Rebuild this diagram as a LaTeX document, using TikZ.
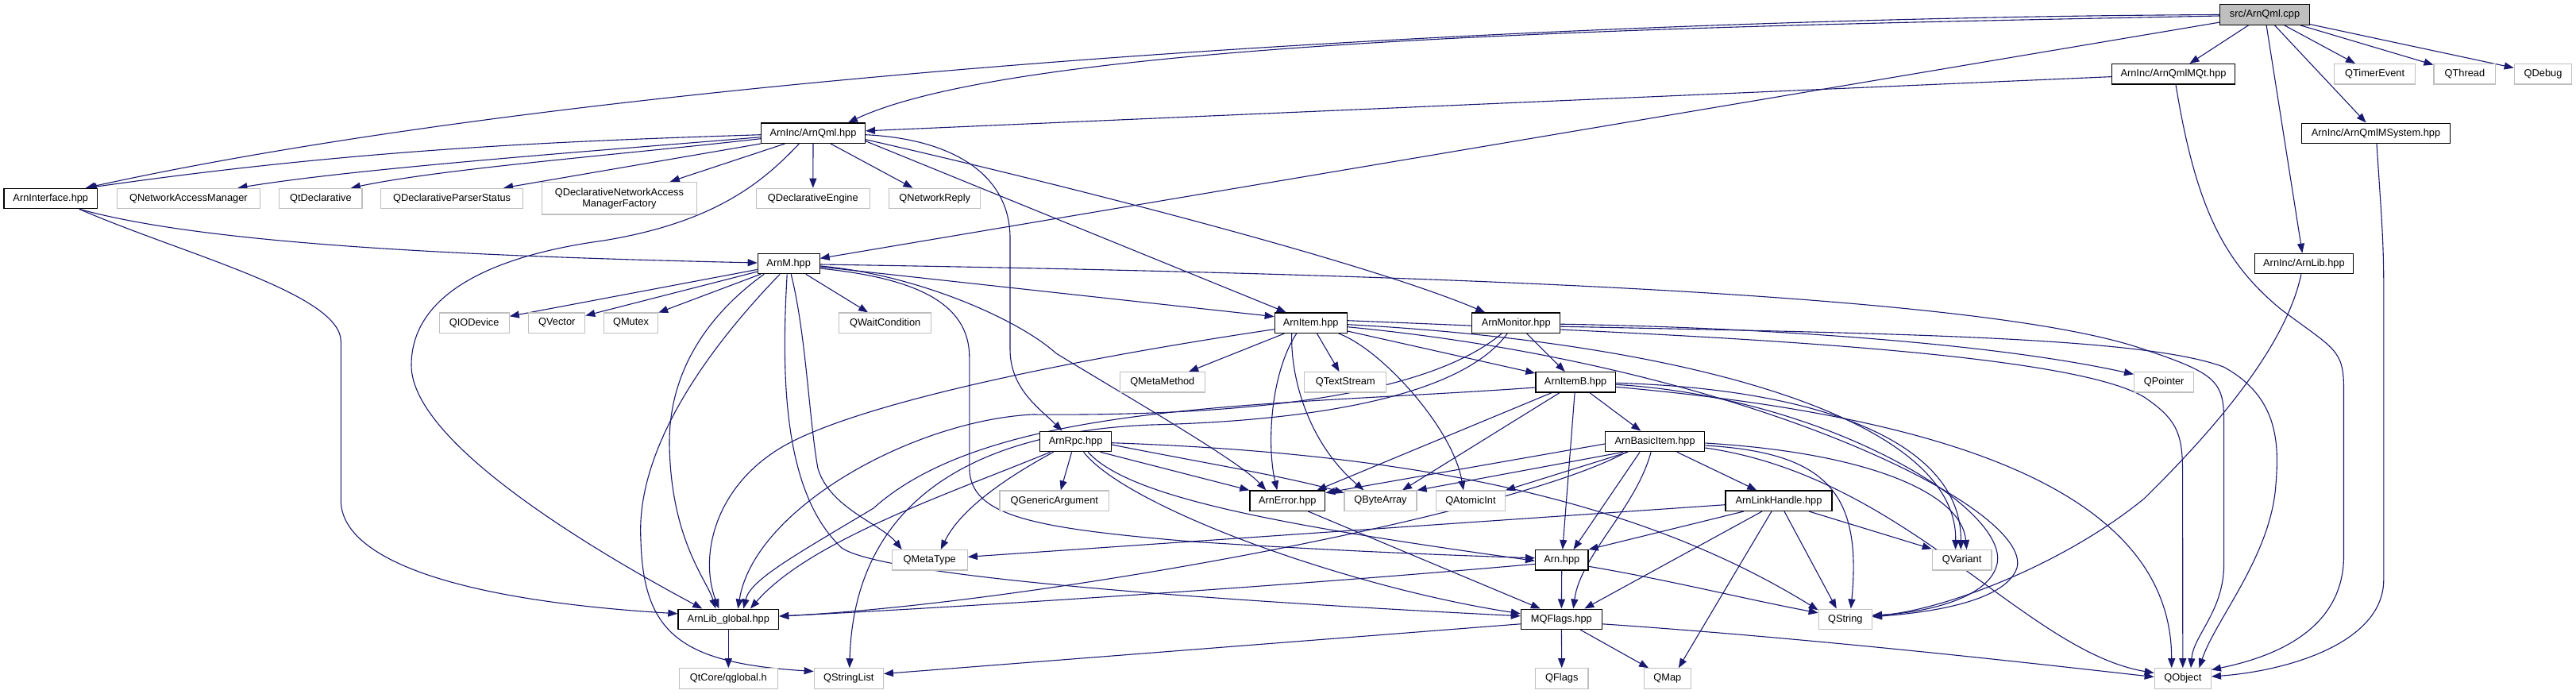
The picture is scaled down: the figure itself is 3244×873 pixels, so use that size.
\documentclass[tikz,border=0pt]{standalone}
\usepackage{fontspec}
\setmainfont{Liberation Sans}
\usetikzlibrary{arrows.meta}
\definecolor{edgeblue}{RGB}{25,25,112}
\definecolor{gray75}{RGB}{191,191,191}
\pgfdeclarelayer{edgelayer}
\pgfsetlayers{edgelayer,main}
\tikzset{
  nb/.style={draw=black, line width=1.2pt, fill=white, minimum height=25.4pt, inner sep=0pt, font=\fontsize{12.8pt}{14pt}\selectfont, text=black},
  ng/.style={nb, draw=gray75},
  e/.style={draw=edgeblue, line width=1.1pt, -{Triangle[length=12pt,width=9pt]}}
}
\begin{document}
\begin{tikzpicture}[x=1pt,y=-1pt]
\useasboundingbox (0,0) rectangle (3244,873);
% ---------- nodes ----------
\node[nb, fill=gray75, minimum width=112.4pt] (cpp) at (2852,18.5) {src/ArnQml.cpp};
\node[nb, minimum width=155pt] (mqt) at (2737,93.3) {ArnInc/ArnQmlMQt.hpp};
\node[ng, minimum width=102.3pt] (qtimer) at (2990.6,93.3) {QTimerEvent};
\node[ng, minimum width=77.7pt] (qthread) at (3103.9,93.3) {QThread};
\node[ng, minimum width=72.5pt] (qdebug) at (3202.5,93.3) {QDebug};
\node[nb, minimum width=130.9pt] (qml) at (1024,167.7) {ArnInc/ArnQml.hpp};
\node[nb, minimum width=187pt] (msys) at (2992,167.8) {ArnInc/ArnQmlMSystem.hpp};
\node[nb, minimum width=117.8pt] (iface) at (63.8,250) {ArnInterface.hpp};
\node[ng, minimum width=180pt] (qnam) at (237.4,250) {QNetworkAccessManager};
\node[ng, minimum width=104.3pt] (qtdecl) at (403.9,250) {QtDeclarative};
\node[ng, minimum width=178.8pt] (qdps) at (569.1,250) {QDeclarativeParserStatus};
\node[ng, minimum width=194.7pt, minimum height=40.7pt, align=center] (qdnamf) at (779.9,249.7) {QDeclarativeNetworkAccess\\ManagerFactory};
\node[ng, minimum width=143.1pt] (qde) at (1023.8,250) {QDeclarativeEngine};
\node[ng, minimum width=115.1pt] (qnr) at (1177.2,250) {QNetworkReply};
\node[nb, minimum width=77.9pt] (arnm) at (993.2,332) {ArnM.hpp};
\node[nb, minimum width=124.6pt] (arnlib) at (2901.4,332) {ArnInc/ArnLib.hpp};
\node[ng, minimum width=88pt] (qiodev) at (597.2,406.7) {QIODevice};
\node[ng, minimum width=70.9pt] (qvector) at (701.3,406.7) {QVector};
\node[ng, minimum width=68.1pt] (qmutex) at (794.5,406.7) {QMutex};
\node[ng, minimum width=116.3pt] (qwait) at (1114.7,406.7) {QWaitCondition};
\node[nb, minimum width=90.9pt] (item) at (1650.7,406.7) {ArnItem.hpp};
\node[nb, minimum width=111.2pt] (monitor) at (1909.2,406.7) {ArnMonitor.hpp};
\node[ng, minimum width=107.1pt] (qmetamethod) at (1463.8,481.3) {QMetaMethod};
\node[ng, minimum width=102.9pt] (qtextstream) at (1694.3,481.3) {QTextStream};
\node[nb, minimum width=100.4pt] (itemb) at (1984.1,481.3) {ArnItemB.hpp};
\node[ng, minimum width=75.2pt] (qpointer) at (2725.2,481.3) {QPointer};
\node[nb, minimum width=89.7pt] (rpc) at (1354.6,556) {ArnRpc.hpp};
\node[nb, minimum width=125.1pt] (basic) at (2084.1,556) {ArnBasicItem.hpp};
\node[ng, minimum width=137.6pt] (qgenarg) at (1327.8,630.7) {QGenericArgument};
\node[nb, minimum width=94.8pt] (error) at (1621.3,630.7) {ArnError.hpp};
\node[ng, minimum width=91pt] (qbytearray) at (1738.5,630.7) {QByteArray};
\node[ng, minimum width=86.9pt] (qatomic) at (1851.9,630.7) {QAtomicInt};
\node[nb, minimum width=134.1pt] (link) at (2240,630.7) {ArnLinkHandle.hpp};
\node[ng, minimum width=95.2pt] (qmetatype) at (1170.7,705.3) {QMetaType};
\node[nb, minimum width=66.4pt] (arn) at (1966.8,705.3) {Arn.hpp};
\node[ng, minimum width=74.7pt] (qvariant) at (2470.6,705.3) {QVariant};
\node[nb, minimum width=126.8pt] (global) at (917.3,779.8) {ArnLib\_global.hpp};
\node[nb, minimum width=101.9pt] (mqflags) at (1966.3,779.8) {MQFlags.hpp};
\node[ng, minimum width=67.1pt] (qstring) at (2323.8,779.8) {QString};
\node[ng, minimum width=124pt] (qglobal) at (917.3,854.5) {QtCore/qglobal.h};
\node[ng, minimum width=87.1pt] (qstringlist) at (1068.8,854.5) {QStringList};
\node[ng, minimum width=66.4pt] (qflags) at (1966.8,854.5) {QFlags};
\node[ng, minimum width=58.7pt] (qmap) at (2099.8,854.5) {QMap};
\node[ng, minimum width=71.1pt] (qobject) at (2748.8,854.5) {QObject};
% ---------- edges ----------
\begin{pgfonlayer}{edgelayer}
% src/ArnQml.cpp
\draw[e] ([yshift=-1.5pt]cpp.west) .. controls (2200,32) and (1300,45) .. ([xshift=44pt]qml.north);
\draw[e] (cpp.west) .. controls (2000,22) and (800,85) .. ([xshift=44pt]iface.north);
\draw[e] (cpp) -- (arnm);
\draw[e] (cpp) -- (mqt);
\draw[e] (cpp) -- (arnlib);
\draw[e] (cpp) -- (msys);
\draw[e] (cpp) -- (qtimer);
\draw[e] (cpp) -- (qthread);
\draw[e] (cpp) -- (qdebug);
% ArnQmlMQt
\draw[e] (mqt) -- (qml);
\draw[e] ([xshift=3pt]mqt.south) .. controls (2765,260) and (2800,330) .. (2873,390) .. controls (2940,440) and (2951.5,440) .. (2951.5,490) -- (2951.5,700) .. controls (2951.5,800) and (2850,830) .. ([yshift=11pt]qobject.east);
% ArnQmlMSystem
\draw[e] ([xshift=1pt]msys.south) .. controls (2998,260) and (3001.8,300) .. (3001.8,360) -- (3001.8,730) .. controls (3001.8,810) and (2880,845) .. ([yshift=2.5pt]qobject.east);
% ArnLib
\draw[e] ([xshift=-3.5pt]arnlib.south) .. controls (2880,430) and (2800,530) .. (2700,628) .. controls (2600,710) and (2450,768) .. ([yshift=4pt]qstring.east);
% ArnInterface
\draw[e] ([xshift=36pt]iface.south) .. controls (250,305) and (550,322) .. ([yshift=1pt]arnm.west);
\draw[e] ([xshift=36pt]iface.south) .. controls (230,320) and (429.3,370) .. (429.3,430) -- (429.3,630) .. controls (429.3,700) and (560,755) .. ([yshift=7pt]global.west);
% ArnQml.hpp
\draw[e] ([yshift=-2pt]qml.west) .. controls (700,178) and (450,188) .. ([xshift=46pt]iface.north);
\draw[e] ([yshift=-5pt]qml.west) .. controls (750,190) and (450,212) .. ([xshift=62pt]qnam.north);
\draw[e] ([yshift=-7pt]qml.west) .. controls (780,195) and (560,212) .. ([xshift=38pt]qtdecl.north);
\draw[e] (qml.south west) -- ([xshift=65pt]qdps.north);
\draw[e] ([xshift=-35.6pt]qml.south) -- ([xshift=64pt]qdnamf.north);
\draw[e] (qml.south) -- (qde.north);
\draw[e] ([xshift=22pt]qml.south) -- ([xshift=-27.7pt]qnr.north);
\draw[e] ([xshift=-17.6pt]qml.south) .. controls (960,230) and (900,280) .. (760,303) .. controls (620,322) and (518,370) .. (518,460) .. controls (518,560) and (760,700) .. ([xshift=-33pt]global.north);
\draw[e] ([yshift=-2pt]qml.east) .. controls (1200,175) and (1272,220) .. (1272,300) -- (1272,440) .. controls (1272,490) and (1310,515) .. ([xshift=-17pt]rpc.north);
\draw[e] ([yshift=-10pt]qml.east) -- ([xshift=-31pt]item.north);
\draw[e] ([yshift=-8pt]qml.east) .. controls (1350,235) and (1720,330) .. ([xshift=-39pt]monitor.north);
% ArnM.hpp
\draw[e] (arnm) -- (qiodev);
\draw[e] (arnm) -- (qvector);
\draw[e] (arnm) -- (qmutex);
\draw[e] (arnm) -- (qwait);
\draw[e] ([yshift=-4pt]arnm.east) -- ([yshift=8pt]item.west);
\draw[e] ([yshift=-1pt]arnm.east) .. controls (1800,345) and (2500,370) .. (2700,440) .. controls (2790,470) and (2800.6,480) .. (2800.6,530) -- (2800.6,710) .. controls (2800.6,770) and (2762,800) .. ([xshift=10.2pt]qobject.north);
\draw[e] ([xshift=-31pt]arnm.south) .. controls (900,390) and (842,460) .. (843,560) .. controls (845,680) and (890,730) .. ([xshift=-16pt]global.north);
\draw[e] ([xshift=-11pt]arnm.south) .. controls (900,430) and (800,560) .. (807,680) .. controls (810,800) and (860,835) .. ([yshift=9pt]qstringlist.west);
\draw[e] ([xshift=-2pt]arnm.south) .. controls (984,470) and (985,620) .. (1060,690) .. controls (1110,725) and (1500,755) .. ([yshift=4pt]mqflags.west);
\draw[e] ([xshift=3pt]arnm.south) .. controls (1015,420) and (1019,530) .. (1030,590) .. controls (1045,640) and (1110,660) .. ([xshift=-35pt]qmetatype.north);
\draw[e] ([yshift=-6pt]arnm.east) .. controls (1150,350) and (1220.8,380) .. (1220.8,450) -- (1220.8,590) .. controls (1222,650) and (1300,665) .. (1500,682) .. controls (1700,695) and (1850,700) .. ([yshift=2.5pt]arn.west);
\draw[e] ([yshift=-3pt]arnm.east) .. controls (1150,345) and (1280,400) .. (1330,445) .. controls (1420,500) and (1560,580) .. ([xshift=-27pt]error.north);
% ArnItem.hpp
\draw[e] (item) -- (qmetamethod);
\draw[e] (item) -- (qtextstream);
\draw[e] (item) -- (itemb);
\draw[e] ([xshift=-18pt]item.south) .. controls (1600,470) and (1595,560) .. ([xshift=-13pt]error.north);
\draw[e] ([xshift=-24pt]item.south) .. controls (1625,480) and (1650,560) .. ([xshift=-21pt]qbytearray.north);
\draw[e] ([xshift=35pt]item.south) .. controls (1740,440) and (1830,540) .. ([xshift=-9pt]qatomic.north);
\draw[e] ([yshift=-2pt]item.east) .. controls (2100,430) and (2465,520) .. ([xshift=-8pt]qvariant.north);
\draw[e] ([yshift=-5pt]item.east) .. controls (2200,460) and (2560,640) .. (2540,715) .. controls (2525,760) and (2420,772) .. ([yshift=3pt]qstring.east);
\draw[e] ([yshift=3pt]item.east) .. controls (2100,420) and (2600,440) .. (2700,500) .. controls (2745,530) and (2748.6,550) .. (2748.6,600) -- (qobject.north);
\draw[e] ([yshift=-8pt]item.west) .. controls (1400,445) and (1100,500) .. (990,560) .. controls (900,610) and (880,700) .. ([xshift=-12pt]global.north);
% ArnMonitor.hpp
\draw[e] (monitor) -- (itemb);
\draw[e] ([yshift=-1.5pt]monitor.east) .. controls (2200,412) and (2500,430) .. ([yshift=10pt]qpointer.west);
\draw[e] ([yshift=-4.5pt]monitor.east) .. controls (2400,420) and (2700,425) .. (2800,462) .. controls (2870,500) and (2870,560) .. (2866,610) .. controls (2860,700) and (2790,780) .. ([xshift=20.6pt]qobject.north);
\draw[e] ([xshift=-18pt]monitor.south) .. controls (1820,480) and (1650,525) .. (1300,522) .. controls (1150,530) and (950,640) .. ([xshift=12pt]global.north);
\draw[e] ([xshift=-11pt]monitor.south) .. controls (1840,500) and (1650,530) .. (1450,535) .. controls (1200,545) and (1075,650) .. ([xshift=1pt]qstringlist.north);
% ArnItemB.hpp
\draw[e] (itemb) -- (basic);
\draw[e] ([xshift=-1pt]itemb.south) -- ([xshift=1pt]arn.north);
\draw[e] ([xshift=-30pt]itemb.south) -- ([xshift=37pt]error.north);
\draw[e] ([xshift=-20pt]itemb.south) -- ([xshift=27.5pt]qbytearray.north);
\draw[e] ([yshift=-6.7pt]itemb.west) .. controls (1600,512) and (1250,505) .. (1100,640) .. controls (1000,700) and (945,730) .. ([xshift=19pt]global.north);
\draw[e] ([yshift=-1pt]itemb.east) .. controls (2300,490) and (2470,560) .. ([xshift=-1.3pt]qvariant.north);
\draw[e] ([yshift=-3pt]itemb.east) .. controls (2300,500) and (2530,640) .. (2515,710) .. controls (2505,755) and (2420,772) .. ([yshift=5pt]qstring.east);
\draw[e] ([yshift=-6pt]itemb.east) .. controls (2400,520) and (2734.7,600) .. ([xshift=-14.1pt]qobject.north);
% ArnBasicItem.hpp
\draw[e] (basic) -- (link);
\draw[e] ([xshift=-19pt]basic.south) -- ([xshift=14.7pt]arn.north);
\draw[e] ([xshift=-5pt]basic.south) .. controls (2060,640) and (1990,700) .. ([xshift=15pt]mqflags.north);
\draw[e] ([yshift=-3pt]basic.west) -- ([yshift=10pt]error.east);
\draw[e] ([xshift=-40pt]basic.south) -- (qbytearray.north east);
\draw[e] ([xshift=-34pt]basic.south) -- (qatomic.north east);
\draw[e] ([xshift=-36pt]basic.south) .. controls (1900,650) and (1300,760) .. ([yshift=3.8pt]global.east);
\draw[e] ([yshift=-2pt]basic.east) .. controls (2350,570) and (2470,620) .. ([xshift=6pt]qvariant.north);
\draw[e] ([yshift=-5pt]basic.east) .. controls (2300,570) and (2345,620) .. ([xshift=7pt]qstring.north);
\draw[e] ([yshift=-8pt]basic.east) .. controls (2400,600) and (2550,820) .. ([yshift=7pt]qobject.west);
% ArnLinkHandle.hpp
\draw[e] ([yshift=-5pt]link.west) -- ([yshift=4pt]qmetatype.east);
\draw[e] ([xshift=-44pt]link.south) -- (arn.north east);
\draw[e] ([xshift=-21pt]link.south) -- ([xshift=29pt]mqflags.north);
\draw[e] ([xshift=-9pt]link.south) -- ([xshift=14pt]qmap.north);
\draw[e] ([xshift=7pt]link.south) -- ([xshift=-11pt]qstring.north);
\draw[e] ([xshift=38pt]link.south) -- ([yshift=14pt]qvariant.west);
% Arn.hpp
\draw[e] ([yshift=-5pt]arn.west) .. controls (1600,740) and (1200,765) .. ([yshift=3.8pt]global.east);
\draw[e] (arn) -- (mqflags);
\draw[e] ([yshift=-8pt]arn.east) .. controls (2100,730) and (2200,755) .. ([yshift=8pt]qstring.west);
% ArnRpc.hpp
\draw[e] ([xshift=-5pt]rpc.south) -- ([xshift=8pt]qgenarg.north);
\draw[e] ([xshift=-28pt]rpc.south) .. controls (1270,600) and (1210,640) .. ([xshift=14pt]qmetatype.north);
\draw[e] ([xshift=-32pt]rpc.south) .. controls (1200,620) and (1020,680) .. ([xshift=27.6pt]global.north);
\draw[e] ([xshift=31pt]rpc.south) -- (error.north west);
\draw[e] ([yshift=-4pt]rpc.east) .. controls (1500,580) and (1620,600) .. ([yshift=10pt]qbytearray.west);
\draw[e] ([yshift=-1.7pt]rpc.east) .. controls (1750,570) and (2050,620) .. ([yshift=11.5pt]qstring.west);
\draw[e] ([xshift=10pt]rpc.south) .. controls (1420,640) and (1700,740) .. ([yshift=7pt]mqflags.west);
\draw[e] ([xshift=15.6pt]rpc.south) .. controls (1420,625) and (1600,660) .. ([yshift=-1pt]arn.west);
% ArnError.hpp
\draw[e] ([xshift=26pt]error.south) -- ([xshift=-26.5pt]mqflags.north);
% ArnLib_global.hpp
\draw[e] (global) -- (qglobal);
% MQFlags.hpp
\draw[e] (mqflags) -- (qflags);
\draw[e] (mqflags) -- (qmap);
\draw[e] ([yshift=-6pt]mqflags.west) -- ([yshift=6pt]qstringlist.east);
\draw[e] ([yshift=-6pt]mqflags.east) .. controls (2300,805) and (2600,840) .. ([yshift=2pt]qobject.west);
\end{pgfonlayer}
\end{tikzpicture}
\end{document}
